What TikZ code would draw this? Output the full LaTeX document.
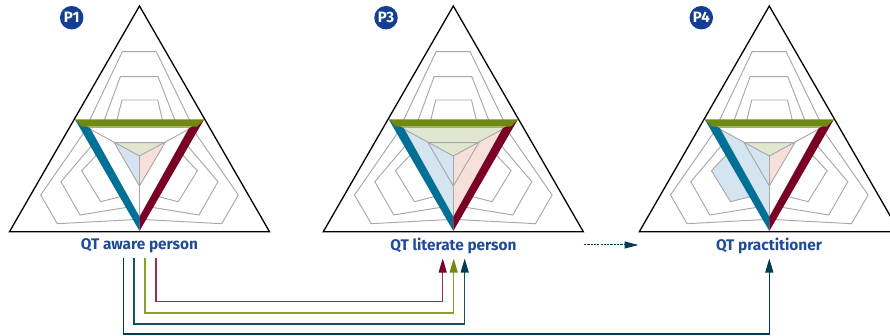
\documentclass[tikz,border=0pt]{standalone}
\usepackage{fontspec}
\setmainfont{Fira Sans}
\usetikzlibrary{arrows.meta}
\definecolor{gridgrey}{HTML}{A8A8A8}
\definecolor{bandblue}{HTML}{007096}
\definecolor{bandgreen}{HTML}{6F8A0F}
\definecolor{bandred}{HTML}{7A0026}
\definecolor{fillblue}{HTML}{D4E5F1}
\definecolor{fillgreen}{HTML}{E0E6CF}
\definecolor{fillred}{HTML}{F7E0D9}
\definecolor{euroblue}{HTML}{123F93}
\definecolor{labelblue}{HTML}{1F4B98}
\definecolor{navy}{HTML}{003D55}
\definecolor{linered}{HTML}{9A2E4C}
\definecolor{lineolive}{HTML}{8A9F2C}
\definecolor{linenavy}{HTML}{14506A}
\tikzset{
  grid line/.style={draw=gridgrey,line width=0.95pt,line join=miter},
  outer tri/.style={draw=black,line width=1.3pt,line join=miter},
  badge/.style={circle,fill=euroblue,text=white,minimum size=23.5pt,inner sep=0pt,font=\fontsize{15}{16}\selectfont\bfseries},
  qtlabel/.style={text=labelblue,inner sep=0pt,font=\fontsize{15.4}{18}\selectfont\bfseries},
  link/.style={line width=1.25pt},
  head/.style={-{Triangle[length=14pt,width=8pt]}},
}
% small fills
\newcommand{\smallgreen}{\fill[fillgreen] (114.3,142.7) -- (165,142.7) -- (139.5,156) -- cycle;}
\newcommand{\smallblue}{\fill[fillblue] (114.3,142.7) -- (139.5,156) -- (139.5,186) -- cycle;}
\newcommand{\smallred}{\fill[fillred] (165,142.7) -- (139.5,156) -- (139.5,186) -- cycle;}
\newcommand{\biggreen}{\fill[fillgreen] (86,127) -- (193,127) -- (139.5,156) -- cycle;}
\newcommand{\bigblue}{\fill[fillblue] (86,127) -- (139.5,156) -- (139.5,218) -- cycle;}
\newcommand{\bigred}{\fill[fillred] (193,127) -- (139.5,156) -- (139.5,218) -- cycle;}
\newcommand{\petalblue}{\fill[fillblue] (81.7,170.7) -- (100.7,201.7) -- (121,196.5) -- (98,153.5) -- cycle;}
% the common drawing
\newcommand{\radar}{%
  \path[grid line] (89.3,121) -- (122.3,51.7) -- (156.3,51.7) -- (190,121);
  \path[grid line] (104,121) -- (120.3,76.7) -- (158,76.7) -- (175.3,121);
  \path[grid line] (116.7,121) -- (122,100) -- (157.7,100) -- (162.7,121);
  \path[grid line] (84.5,131.8) -- (40.7,195) -- (57.3,223.7) -- (136,219.5);
  \path[grid line] (93,144) -- (61,181.7) -- (80,215) -- (129,207);
  \path[grid line] (98,153.5) -- (81.7,170.7) -- (100.7,201.7) -- (121,196.5);
  \path[grid line] (194.5,131.8) -- (238.3,195) -- (221.7,223.7) -- (143,219.5);
  \path[grid line] (186,144) -- (218,181.7) -- (199,215) -- (150,207);
  \path[grid line] (181,153.5) -- (197.3,170.7) -- (178.3,201.7) -- (158,196.5);
  \path[grid line] (88,128) -- (139.5,156) -- (191,128);
  \path[grid line] (139.5,156) -- (139.5,222);
  \path[grid line] (114.3,142.7) -- (165,142.7) -- (139.5,186) -- cycle;
  \path[grid line] (82,127) -- (197,127);
  \path[grid line] (90,128.5) -- (139.5,217.5) -- (189,128.5);
  \fill[bandblue] (75,119.5) -- (139.5,231) -- (139.5,217) -- (90,128.3) -- cycle;
  \fill[bandred] (204,119.5) -- (139.5,231) -- (139.5,217) -- (189,128.3) -- cycle;
  \fill[bandgreen] (75,119.5) -- (204,119.5) -- (197,126.6) -- (82,126.6) -- cycle;
  \path[outer tri] (139.5,6) -- (9.5,231.7) -- (269.5,231.7) -- cycle;
}
\begin{document}
\begin{tikzpicture}[x=1pt,y=-1pt]
\useasboundingbox (0,0) rectangle (890,336);
\clip (0,0) rectangle (890,336);

\begin{scope}
  \smallgreen \smallblue \smallred
  \radar
\end{scope}
\begin{scope}[xshift=313.8pt]
  \biggreen \bigblue \bigred
  \radar
\end{scope}
\begin{scope}[xshift=629.8pt]
  \smallgreen \bigblue \petalblue \smallred
  \radar
\end{scope}

\node[badge] (p1) at (71.7,17.7) {P1};
\node[badge] (p3) at (386,17.7) {P3};
\node[badge] (p4) at (701.3,17.7) {P4};

\node[qtlabel] (aware) at (139.5,246) {QT aware person};
\node[qtlabel] (literate) at (453.5,246) {QT literate person};
\node[qtlabel] (pract) at (769,246) {QT practitioner};

\coordinate (s1) at (123.3,258);
\coordinate (s2) at (134,258);
\coordinate (s3) at (145,258);
\coordinate (s4) at (156,258);
\coordinate (t1) at (769.3,258.5);
\coordinate (t2) at (464.7,258.5);
\coordinate (t3) at (453.7,258.5);
\coordinate (t4) at (442.7,258.5);
\coordinate (d1) at (584,245);
\coordinate (d2) at (638.5,245);

\draw[link,draw=navy] (s1) |- (769.3,334) -- (769.3,272);
\draw[link,draw=linenavy] (s2) |- (464.7,324) -- (464.7,272);
\draw[link,draw=lineolive] (s3) |- (453.7,313) -- (453.7,272);
\draw[link,draw=linered] (s4) |- (442.7,301.7) -- (442.7,272);
\draw[head,draw=navy,fill=navy,line width=1.1pt] (769.3,272.5) -- (t1);
\draw[head,draw=navy,fill=navy,line width=1.1pt] (464.7,272.5) -- (t2);
\draw[head,draw=bandgreen,fill=bandgreen,line width=1.1pt] (453.7,272.5) -- (t3);
\draw[head,draw=bandred,fill=bandred,line width=1.1pt] (442.7,272.5) -- (t4);
\draw[draw=navy,line width=1pt,dash pattern=on 2.2pt off 1.1pt,-{Triangle[length=14pt,width=7pt]}] (d1) -- (d2);
\end{tikzpicture}
\end{document}
